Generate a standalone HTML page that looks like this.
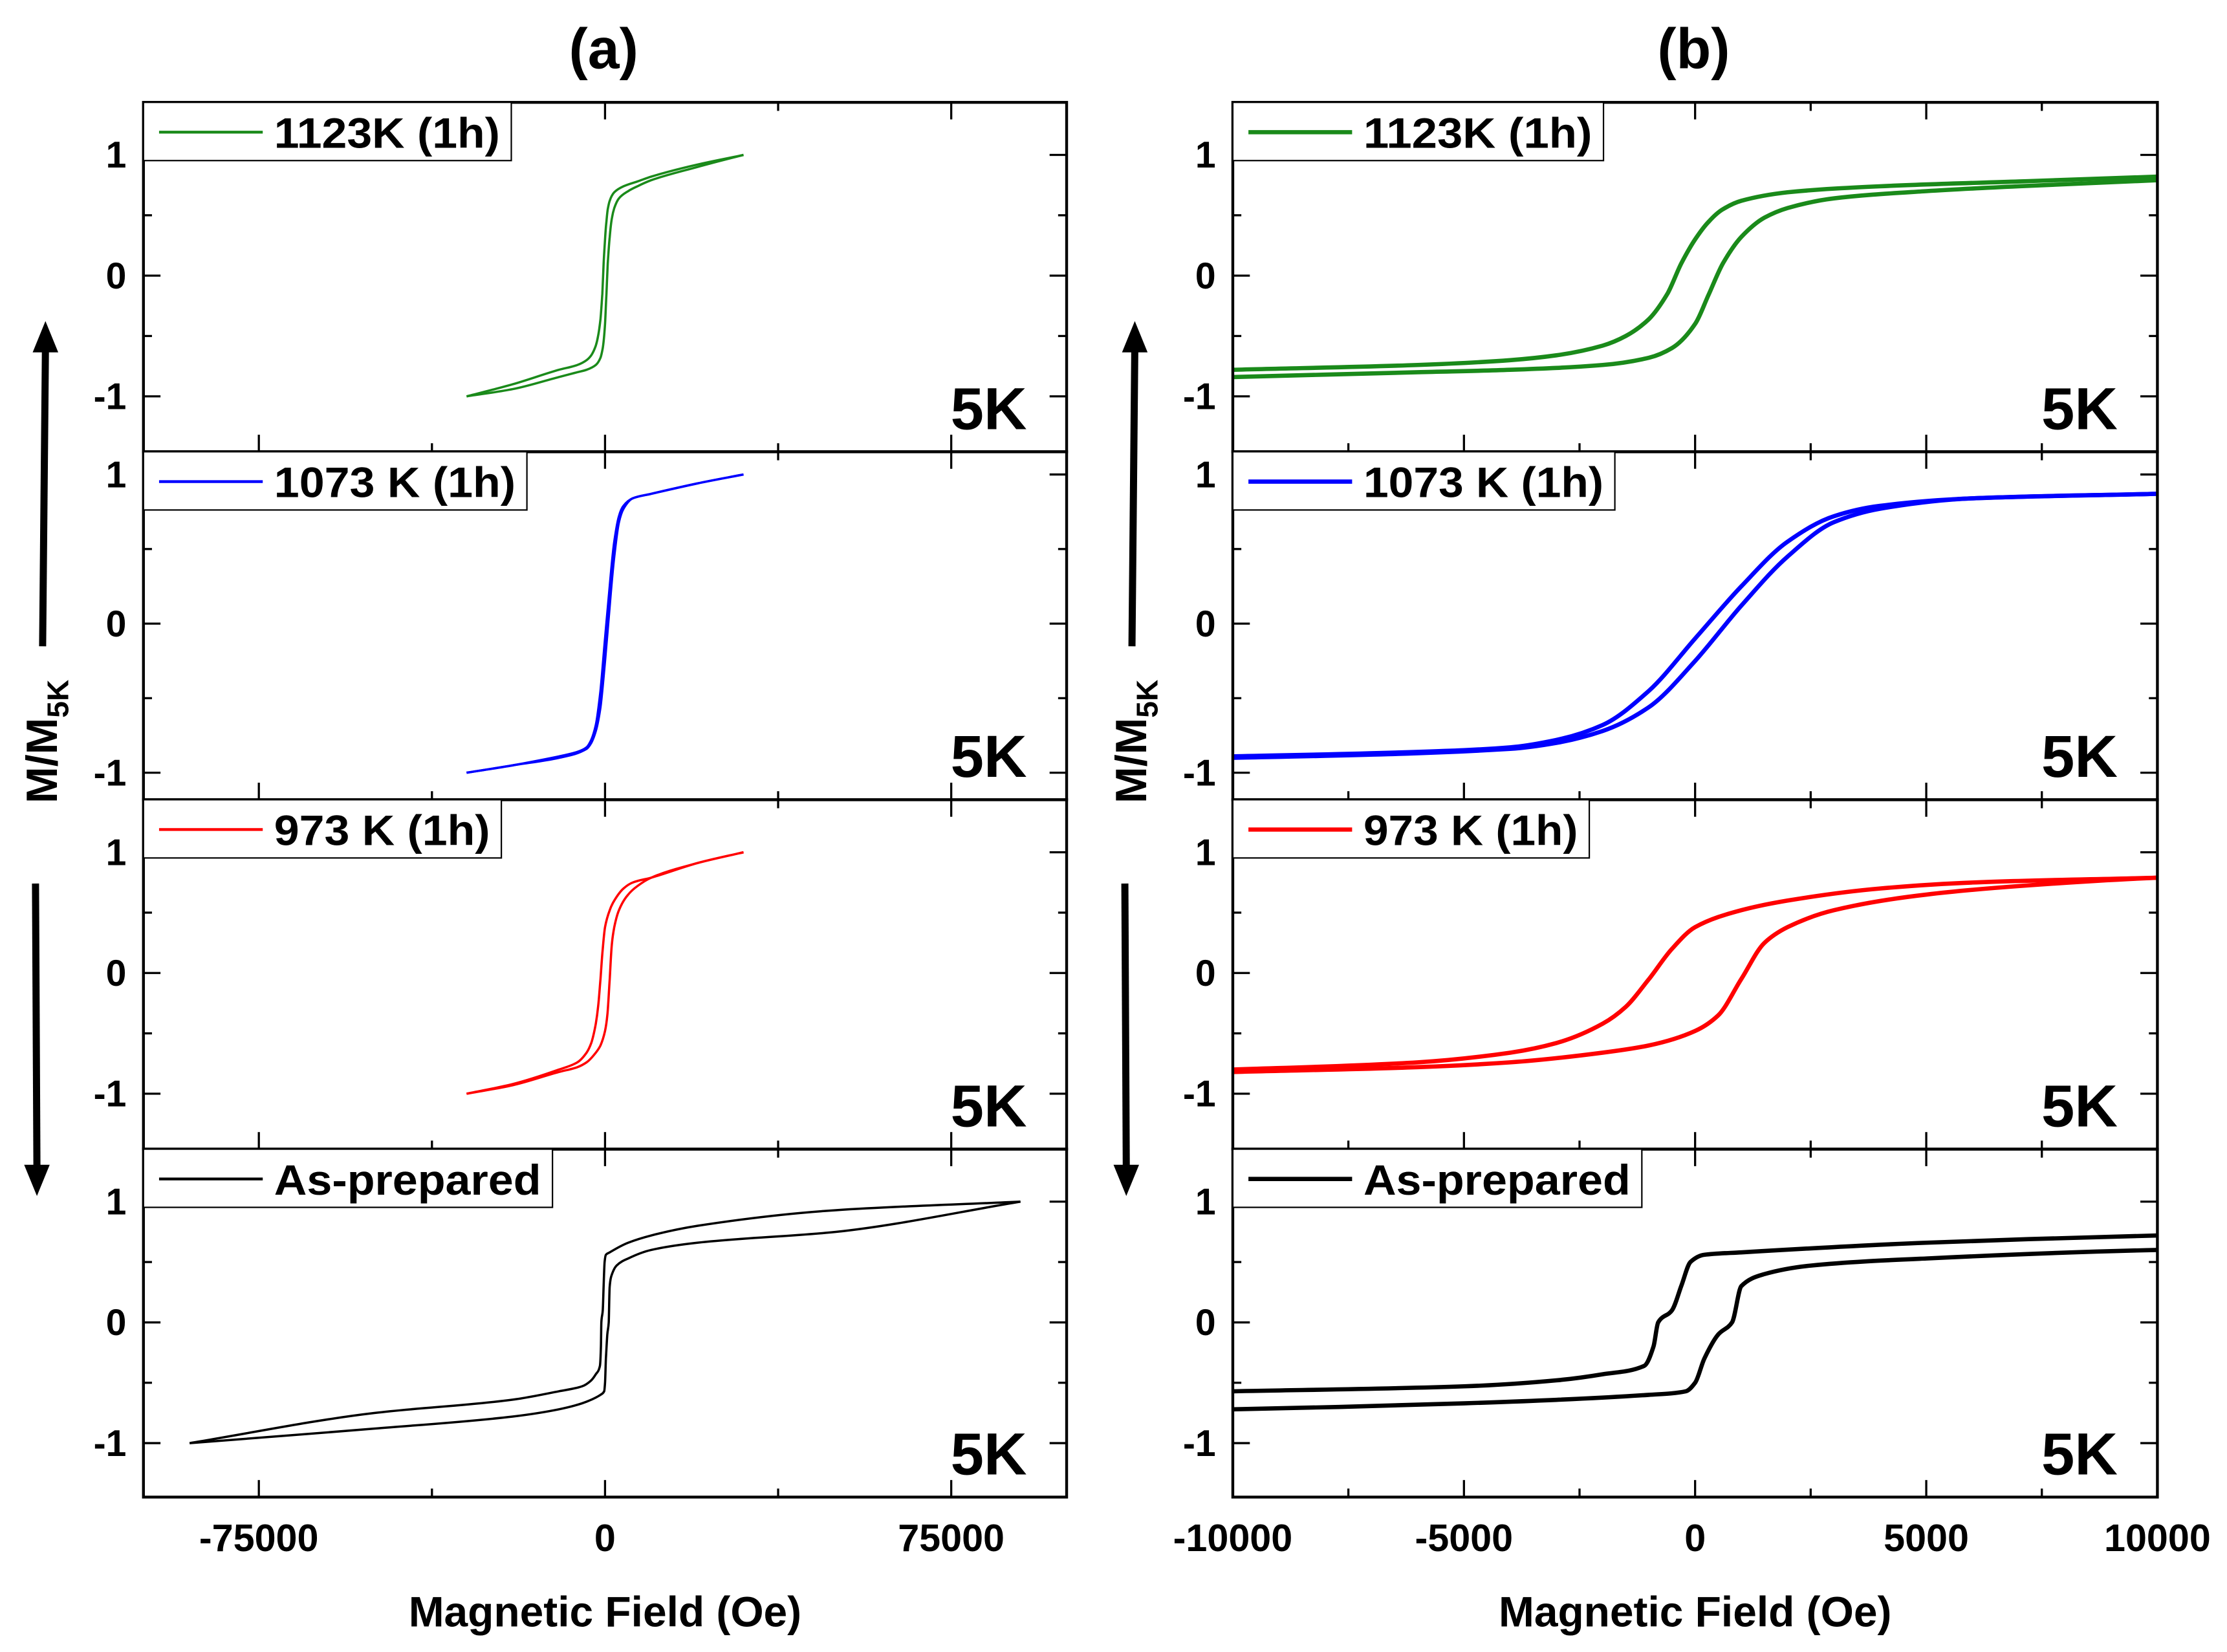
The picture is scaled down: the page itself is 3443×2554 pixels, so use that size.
<!DOCTYPE html>
<html><head><meta charset="utf-8"><style>
html,body{margin:0;padding:0;background:#fff;}
svg{display:block;font-family:"Liberation Sans",sans-serif;font-weight:bold;}
</style></head><body>
<svg id="fig" width="3443" height="2554" viewBox="0 0 1568 1163" xmlns="http://www.w3.org/2000/svg"></svg>
<script>
// ---- data: descending (upper) and ascending (lower) branches, H in Oe, M normalised ----
const s1123_upH = [-30000,-20000,-10000,-6000,-4000,-3000,-2000,-1500,-1000,-600,-300,0,300,600,1000,2000,4000,7000,10000,20000,30000];
const s1123_upM = [-1.0,-0.90,-0.78,-0.74,-0.70,-0.66,-0.58,-0.50,-0.36,-0.15,0.10,0.30,0.45,0.55,0.62,0.69,0.74,0.78,0.82,0.92,1.0];
const s1123_loH = [-30000,-20000,-10000,-6000,-4000,-2000,-1000,-500,0,300,600,1000,1500,2000,3000,5000,7000,10000,20000,30000];
const s1123_loM = [-1.0,-0.94,-0.84,-0.80,-0.78,-0.74,-0.68,-0.60,-0.40,-0.15,0.10,0.32,0.48,0.56,0.64,0.70,0.74,0.79,0.90,1.0];

const s1073_upH = [-30000,-20000,-10000,-6000,-4000,-3000,-2000,-1000,0,1000,2000,3000,4000,6000,10000,20000,30000];
const s1073_upM = [-1.0,-0.95,-0.89,-0.86,-0.83,-0.78,-0.68,-0.45,-0.10,0.25,0.55,0.72,0.79,0.84,0.87,0.94,1.0];
const s1073_loH = [-30000,-20000,-10000,-4000,-3000,-2000,-1000,0,1000,2000,3000,4000,6000,10000,20000,30000];
const s1073_loM = [-1.0,-0.95,-0.90,-0.84,-0.80,-0.72,-0.56,-0.25,0.12,0.45,0.68,0.77,0.84,0.87,0.94,1.0];

const s973_upH = [-30000,-20000,-10000,-6000,-4000,-3000,-2000,-1500,-1000,-500,0,1000,2000,4000,6000,10000,20000,30000];
const s973_upM = [-1.0,-0.92,-0.80,-0.74,-0.66,-0.58,-0.42,-0.28,-0.05,0.20,0.38,0.52,0.60,0.70,0.75,0.79,0.91,1.0];
const s973_loH = [-30000,-20000,-10000,-6000,-4000,-2000,-1000,0,500,1000,1500,2000,3000,5000,7000,10000,20000,30000];
const s973_loM = [-1.0,-0.93,-0.82,-0.78,-0.74,-0.66,-0.60,-0.48,-0.35,-0.05,0.25,0.38,0.52,0.65,0.72,0.79,0.91,1.0];

const sAP_upH = [-90000,-50000,-20000,-10000,-5000,-3000,-2000,-1100,-900,-800,-500,-300,-100,200,1000,5000,10000,20000,50000,90000];
const sAP_upM = [-1.0,-0.75,-0.64,-0.57,-0.53,-0.48,-0.43,-0.36,-0.20,0.0,0.10,0.30,0.50,0.56,0.58,0.66,0.72,0.80,0.93,1.0];
const sAP_loH = [-90000,-50000,-20000,-10000,-5000,-1000,-200,0,200,500,800,1000,1500,2500,5000,10000,20000,50000,90000];
const sAP_loM = [-1.0,-0.88,-0.78,-0.72,-0.67,-0.60,-0.57,-0.50,-0.30,-0.10,0.0,0.30,0.40,0.47,0.53,0.60,0.66,0.75,1.0];

const sampleNames = ["1123K (1h)","1073 K (1h)","973 K (1h)","As-prepared"];
const sampleColors = ["#1a8a1a","#0000ff","#ff0000","#000000"];
const yTickLabels = ["1","0","-1"];
const yTickValues = [1,0,-1];
const xTicksA = [-75000,0,75000];
const xTicksB = [-10000,-5000,0,5000,10000];

const samples = [
 {upH:s1123_upH,upM:s1123_upM,loH:s1123_loH,loM:s1123_loM},
 {upH:s1073_upH,upM:s1073_upM,loH:s1073_loH,loM:s1073_loM},
 {upH:s973_upH,upM:s973_upM,loH:s973_loH,loM:s973_loM},
 {upH:sAP_upH,upM:sAP_upM,loH:sAP_loH,loM:sAP_loM}
];

// ---- layout ----
const NS="http://www.w3.org/2000/svg";
const svg=document.getElementById('fig');
function mk(tag,attrs,parent){const e=document.createElementNS(NS,tag);for(const k in attrs)e.setAttribute(k,attrs[k]);(parent||svg).appendChild(e);return e;}
function smoothPath(pts){
  // monotone-x cubic (Fritsch-Carlson) in screen space
  const n=pts.length; if(n<2)return '';
  const dx=[],dy=[],m=[],t=[];
  for(let i=0;i<n-1;i++){dx[i]=pts[i+1][0]-pts[i][0];dy[i]=pts[i+1][1]-pts[i][1];m[i]=dx[i]?dy[i]/dx[i]:0;}
  t[0]=m[0];t[n-1]=m[n-2];
  for(let i=1;i<n-1;i++){ if(m[i-1]*m[i]<=0)t[i]=0; else {const w1=2*dx[i]+dx[i-1],w2=dx[i]+2*dx[i-1];t[i]=(w1+w2)/(w1/m[i-1]+w2/m[i]);}}
  let d='M'+pts[0][0].toFixed(1)+' '+pts[0][1].toFixed(1);
  for(let i=0;i<n-1;i++){const h=dx[i]/3;
    d+='C'+(pts[i][0]+h).toFixed(1)+' '+(pts[i][1]+t[i]*h).toFixed(1)+' '+(pts[i+1][0]-h).toFixed(1)+' '+(pts[i+1][1]-t[i+1]*h).toFixed(1)+' '+pts[i+1][0].toFixed(1)+' '+pts[i+1][1].toFixed(1);}
  return d;
}
const rowTop=[72,318,563,809], rowBot=[318,563,809,1054];
const rowZero=[194,439,685,931], rowUnit=[85,105,85,85];
const panels=[{l:101,r:751,min:-100000,max:100000,ticks:xTicksA,minor:37500,major:75000,leg:[360,371,353,389],lab:"(a)",arrowX:31},
              {l:868,r:1519,min:-10000,max:10000,ticks:xTicksB,minor:2500,major:5000,leg:[1129,1137,1119,1156],lab:"(b)",arrowX:798}];

panels.forEach((P,pi)=>{
  const g=mk('g',{});
  
  
  const xs=v=>P.l+(v-P.min)/(P.max-P.min)*(P.r-P.l);
  const cx=(P.l+P.r)/2;
  const t=mk('text',{x:cx-1,y:48,'text-anchor':'middle','font-size':40},g);t.textContent=P.lab;
  
  const clipId='clip'+pi;
  for(let r=0;r<4;r++){
    const top=rowTop[r],bot=rowBot[r];
    const ys=v=>rowZero[r]-v*rowUnit[r];
    const sg=mk('g',{},g);
    
    
    const cp=mk('clipPath',{id:clipId+r},sg);mk('rect',{x:P.l,y:top,width:P.r-P.l,height:bot-top},cp);
    const S=samples[r];
    [['upH','upM','descending-branch'],['loH','loM','ascending-branch']].forEach(([h,m,nm])=>{
      const pts=S[h].map((v,i)=>[xs(v),ys(S[m][i])]);
      const p=mk('path',{d:smoothPath(pts),fill:'none',stroke:sampleColors[r],'stroke-width':pi?3:1.6,'stroke-linejoin':'round','clip-path':'url(#'+clipId+r+')'},sg);
      
    });
    yTickValues.forEach((v,i)=>{
      mk('line',{x1:P.l,x2:P.l+12,y1:ys(v),y2:ys(v),stroke:'#000','stroke-width':1.5},sg);
      mk('line',{x1:P.r,x2:P.r-12,y1:ys(v),y2:ys(v),stroke:'#000','stroke-width':1.5},sg);
      const tl=mk('text',{x:P.l-12,y:ys(v)+9,'text-anchor':'end','font-size':26},sg);tl.textContent=yTickLabels[i];
      
    });
    [0.5,-0.5].forEach(v=>{
      mk('line',{x1:P.l,x2:P.l+6,y1:ys(v),y2:ys(v),stroke:'#000','stroke-width':1.5},sg);
      mk('line',{x1:P.r,x2:P.r-6,y1:ys(v),y2:ys(v),stroke:'#000','stroke-width':1.5},sg);
    });
    for(let v=Math.ceil(P.min/P.minor)*P.minor;v<=P.max;v+=P.minor){
      const L=(Math.abs(v%P.major)<1e-6)?12:6;
      mk('line',{x1:xs(v),x2:xs(v),y1:bot,y2:bot-L,stroke:'#000','stroke-width':1.5},sg);
      mk('line',{x1:xs(v),x2:xs(v),y1:top,y2:top+L,stroke:'#000','stroke-width':1.5},sg);
    }
    mk('rect',{x:P.l,y:top,width:P.r-P.l,height:bot-top,fill:'none',stroke:'#000','stroke-width':2},sg);
    const lg=mk('g',{},sg);
    
    mk('rect',{x:P.l,y:top,width:P.leg[r]-P.l,height:41,fill:'#fff',stroke:'#000','stroke-width':1},lg);
    mk('line',{x1:P.l+11,x2:P.l+84,y1:top+21,y2:top+21,stroke:sampleColors[r],'stroke-width':pi?3:2},lg);
    const lt=mk('text',{x:P.l+92,y:top+32,'font-size':30,textLength:P.leg[r]-P.l-100,lengthAdjust:'spacingAndGlyphs'},lg);lt.textContent=sampleNames[r];
    const k=mk('text',{x:P.r-28,y:bot-16,'text-anchor':'end','font-size':42},sg);k.textContent='5K';
    
  }
  P.ticks.forEach(v=>{
    const tl=mk('text',{x:xs(v),y:1092,'text-anchor':'middle','font-size':27},g);tl.textContent=String(v);
    
  });
  const xt=mk('text',{x:cx,y:1145,'text-anchor':'middle','font-size':30},g);xt.textContent='Magnetic Field (Oe)';
  
  const yt=mk('text',{transform:'translate('+(P.arrowX+9)+',522) rotate(-90)','text-anchor':'middle','font-size':31},g);
  yt.innerHTML='M/M<tspan font-size="21" dy="8">5K</tspan>';
  
  const ax=P.arrowX;
  const a1=mk('g',{},g);
  mk('line',{x1:ax-1,y1:455,x2:ax+1,y2:245,stroke:'#000','stroke-width':5},a1);
  mk('polygon',{points:(ax-8)+',248 '+(ax+10)+',248 '+(ax+1)+',226',fill:'#000'},a1);
  const a2=mk('g',{},g);
  mk('line',{x1:ax-6,y1:622,x2:ax-5,y2:822,stroke:'#000','stroke-width':5},a2);
  mk('polygon',{points:(ax-14)+',820 '+(ax+4)+',820 '+(ax-5)+',842',fill:'#000'},a2);
});
</script>
</body></html>
